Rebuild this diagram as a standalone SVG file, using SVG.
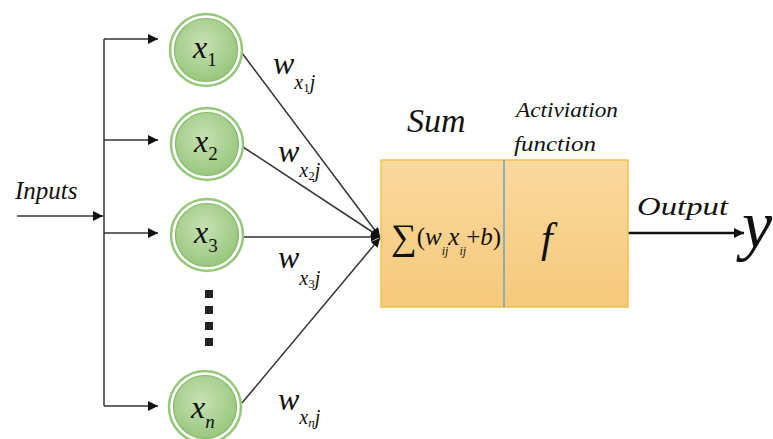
<svg xmlns="http://www.w3.org/2000/svg" width="773" height="439" viewBox="0 0 773 439">
<style>
.t{font-style:italic;fill:#111;}
.n{font-style:normal;fill:#111;}
.ln{stroke:#333;stroke-width:1.5;fill:none;}
.ring{fill:#fff;stroke:#94c879;stroke-width:2.5;}
.core{fill:url(#g);stroke:#86bb68;stroke-width:1.2;}
</style>
<defs>
<radialGradient id="g" cx="0.45" cy="0.4" r="0.65">
<stop offset="0" stop-color="#c8e1b4"/>
<stop offset="1" stop-color="#95c57a"/>
</radialGradient>
<linearGradient id="bx" x1="0" y1="0" x2="0" y2="1">
<stop offset="0" stop-color="#fad99e"/>
<stop offset="1" stop-color="#f6c97b"/>
</linearGradient>
<marker id="arr" viewBox="0 0 10 10" refX="10" refY="5" markerWidth="12" markerHeight="10" orient="auto" markerUnits="userSpaceOnUse">
<path d="M0,0 L10,5 L0,10 z" fill="#111"/>
</marker>
<marker id="arrs" viewBox="0 0 10 10" refX="10" refY="5" markerWidth="11" markerHeight="9" orient="auto" markerUnits="userSpaceOnUse">
<path d="M0,0 L10,5 L0,10 z" fill="#111"/>
</marker>
</defs>
<rect width="773" height="439" fill="#fff"/>

<g id="connectors">
<line class="ln" x1="17" y1="216" x2="103" y2="216" marker-end="url(#arr)"/>
<line class="ln" x1="104" y1="39" x2="104" y2="406"/>
<line class="ln" x1="104" y1="39" x2="158" y2="39" marker-end="url(#arr)"/>
<line class="ln" x1="104" y1="140" x2="158" y2="140" marker-end="url(#arr)"/>
<line class="ln" x1="104" y1="233" x2="158" y2="233" marker-end="url(#arr)"/>
<line class="ln" x1="104" y1="406" x2="158" y2="406" marker-end="url(#arr)"/>
<line class="ln" x1="242" y1="53" x2="380" y2="237" marker-end="url(#arrs)"/>
<line class="ln" x1="243" y1="147" x2="380" y2="237" marker-end="url(#arrs)"/>
<line class="ln" x1="243" y1="237" x2="380" y2="237" marker-end="url(#arrs)"/>
<line class="ln" x1="242" y1="403" x2="380" y2="238" marker-end="url(#arrs)"/>
<line x1="628" y1="233" x2="744" y2="233" stroke="#111" stroke-width="2.5" marker-end="url(#arr)"/>
</g>

<g font-family="Liberation Serif, Times New Roman, serif">
<g id="inputs-label"><text class="t" x="15" y="199" font-size="25">Inputs</text></g>

<g id="node-x1">
<circle class="ring" cx="206" cy="50" r="36"/>
<circle class="core" cx="206" cy="50" r="31.5"/>
<text class="t" x="193" y="58" font-size="32">x<tspan class="n" font-size="19" dy="8">1</tspan></text>
</g>
<g id="node-x2">
<circle class="ring" cx="207" cy="144" r="36"/>
<circle class="core" cx="207" cy="144" r="31.5"/>
<text class="t" x="194" y="152" font-size="32">x<tspan class="n" font-size="19" dy="8">2</tspan></text>
</g>
<g id="node-x3">
<circle class="ring" cx="207" cy="235" r="36"/>
<circle class="core" cx="207" cy="235" r="31.5"/>
<text class="t" x="194" y="243" font-size="32">x<tspan class="n" font-size="19" dy="9">3</tspan></text>
</g>
<g id="ellipsis" fill="#222">
<rect x="205" y="290" width="8" height="8"/>
<rect x="205" y="306" width="8" height="8"/>
<rect x="205" y="322" width="8" height="8"/>
<rect x="205" y="338" width="8" height="8"/>
</g>
<g id="node-xn">
<circle class="ring" cx="205" cy="407" r="36"/>
<circle class="core" cx="205" cy="407" r="31.5"/>
<text class="t" x="191" y="418" font-size="32">x<tspan font-size="19" dy="10">n</tspan></text>
</g>

<g id="weights">
<text class="t" x="273" y="74" font-size="32">w<tspan font-size="20" dy="15">x</tspan><tspan class="n" font-size="13" dy="3">1</tspan><tspan font-size="20" dy="-3">j</tspan></text>
<text class="t" x="278" y="162" font-size="32">w<tspan font-size="20" dy="15">x</tspan><tspan class="n" font-size="13" dy="3">2</tspan><tspan font-size="20" dy="-3">j</tspan></text>
<text class="t" x="278" y="268" font-size="32">w<tspan font-size="20" dy="17">x</tspan><tspan class="n" font-size="13" dy="3">3</tspan><tspan font-size="20" dy="-3">j</tspan></text>
<text class="t" x="278" y="410" font-size="32">w<tspan font-size="20" dy="14">x</tspan><tspan font-size="13" dy="3">n</tspan><tspan font-size="20" dy="-3">j</tspan></text>
</g>

<g id="neuron">
<rect x="381" y="160" width="247" height="147" fill="url(#bx)" stroke="#f2c14e" stroke-width="1.5"/>
<line x1="504" y1="160" x2="504" y2="307" stroke="#6f9fc6" stroke-width="1.5"/>
<text class="t" x="407" y="132" font-size="34">Sum</text>
<text class="t" x="516" y="117" font-size="22" textLength="102" lengthAdjust="spacingAndGlyphs">Activiation</text>
<text class="t" x="514" y="151" font-size="22" textLength="82" lengthAdjust="spacingAndGlyphs">function</text>
<text class="n" x="391" y="249" font-size="36">∑<tspan font-size="25" dy="-4">(</tspan><tspan class="t" font-size="25">w</tspan><tspan class="t" font-size="12" dy="10">ij</tspan><tspan class="t" font-size="25" dy="-10">x</tspan><tspan class="t" font-size="12" dy="10">ij</tspan><tspan font-size="25" dy="-10">+</tspan><tspan class="t" font-size="25">b</tspan><tspan font-size="25">)</tspan></text>
<text class="t" x="541" y="252" font-size="42">f</text>
</g>

<g id="output">
<text class="t" x="637" y="215" font-size="25" textLength="91" lengthAdjust="spacingAndGlyphs">Output</text>
<text class="t" x="742" y="248" font-size="68">y</text>
</g>
</g>
</svg>
